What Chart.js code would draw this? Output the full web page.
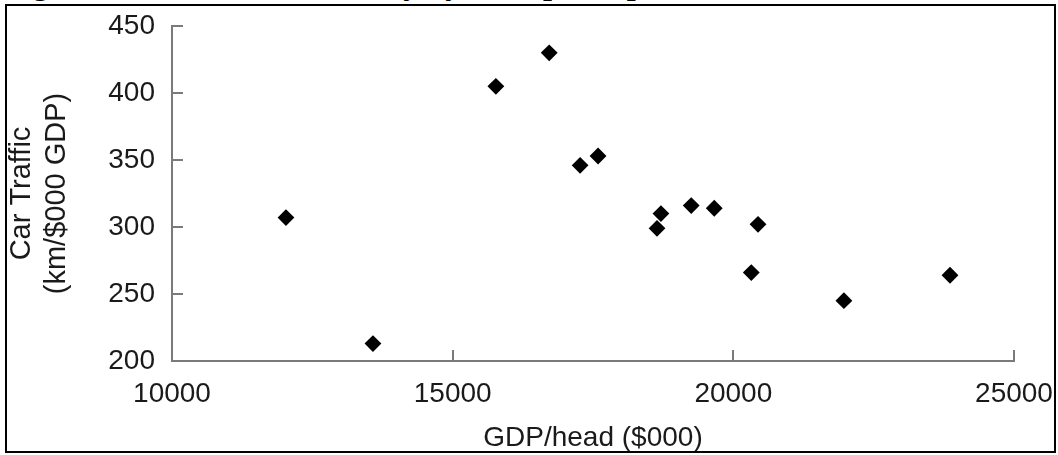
<!DOCTYPE html>
<html>
<head>
<meta charset="utf-8">
<script src="https://cdn.jsdelivr.net/npm/chart.js@4.4.0/dist/chart.umd.min.js"></script>
<style>
  html, body { margin: 0; padding: 0; background: #fff; overflow: hidden; }
  #wrap { position: relative; width: 1058px; height: 455px; }
  #title {
    position: absolute; left: 4px; top: -33px; white-space: nowrap;
    font: bold 32px "Liberation Serif", serif; line-height: 32px; color: #000;
  }
  #frame {
    position: absolute; left: 5px; top: 4px; width: 1051px; height: 449px;
    box-sizing: border-box; border: 2px solid #000; pointer-events: none;
  }
  canvas { position: absolute; left: 0; top: 0; }
</style>
</head>
<body>
<div id="wrap">
  <div id="title">Figure 5: Car Traffic Intensity by GDP per capita</div>
  <canvas id="myChart" width="1058" height="455"></canvas>
  <div id="frame"></div>
</div>
<script>
// GDP per head and car traffic per country
var gdpHead = [12030, 13580, 15770, 16720, 17270, 17590, 18640, 18710, 19250, 19660, 20440, 20320, 21970, 23860];
var carTraffic = [307, 213, 405, 430, 346, 353, 299, 310, 316, 314, 302, 266, 245, 264];

var xTicks = [10000, 15000, 20000, 25000];
var yTicks = [200, 250, 300, 350, 400, 450];

var points = [];
for (var i in gdpHead) {
    points.push({ x: gdpHead[i], y: carTraffic[i] });
}

// short ticks drawn inside the plot, like the original
var innerTicks = {
    id: 'innerTicks',
    afterDraw: function (chart) {
        var ctx = chart.ctx;
        var xs = chart.scales.x, ys = chart.scales.y;
        var area = chart.chartArea;
        ctx.save();
        ctx.strokeStyle = '#7a7a7a';
        ctx.lineWidth = 2;
        ctx.beginPath();
        yTicks.forEach(function (v) {
            var py = Math.round(ys.getPixelForValue(v));
            ctx.moveTo(area.left, py);
            ctx.lineTo(area.left + 11, py);
        });
        xTicks.forEach(function (v) {
            var px = Math.round(xs.getPixelForValue(v));
            ctx.moveTo(px, area.bottom);
            ctx.lineTo(px, area.bottom - 11);
        });
        ctx.stroke();
        ctx.restore();
    }
};

var ctx = document.getElementById('myChart').getContext('2d');

var chart = new Chart(ctx, {
    type: 'scatter',
    data: {
        datasets: [{
            label: 'Car traffic',
            data: points,
            pointStyle: 'rectRot',
            pointRadius: 7,
            backgroundColor: '#000',
            borderColor: '#000',
            borderWidth: 2
        }]
    },
    options: {
        responsive: false,
        animation: false,
        devicePixelRatio: 1,
        layout: { padding: { left: 0, top: 26, right: 44, bottom: 0 } },
        plugins: {
            legend: { display: false },
            tooltip: { enabled: false }
        },
        scales: {
            x: {
                type: 'linear',
                min: 10000,
                max: 25000,
                afterBuildTicks: function (s) { s.ticks = xTicks.map(function (v) { return { value: v }; }); },
                afterFit: function (s) { s.height = 94; s.paddingLeft = 0; s.paddingRight = 0; },
                grid: { display: true, drawOnChartArea: false, drawTicks: false },
                border: { display: true, color: '#7a7a7a', width: 2 },
                ticks: {
                    padding: 16,
                    color: '#1a1a1a',
                    font: { family: 'Liberation Sans', size: 28 },
                    callback: function (v) { return String(v); }
                },
                title: {
                    display: true,
                    text: 'GDP/head ($000)',
                    color: '#1a1a1a',
                    font: { family: 'Liberation Sans', size: 28 },
                    padding: { top: 0, bottom: 0 }
                }
            },
            y: {
                type: 'linear',
                min: 200,
                max: 450,
                afterBuildTicks: function (s) { s.ticks = yTicks.map(function (v) { return { value: v }; }); },
                afterFit: function (s) { s.width = 172; s.paddingTop = 0; s.paddingBottom = 0; },
                grid: { display: true, drawOnChartArea: false, drawTicks: false },
                border: { display: true, color: '#7a7a7a', width: 2 },
                ticks: {
                    padding: 17,
                    color: '#1a1a1a',
                    font: { family: 'Liberation Sans', size: 28 },
                    callback: function (v) { return String(v); }
                },
                title: {
                    display: true,
                    text: ['Car Traffic', '(km/$000 GDP)'],
                    color: '#1a1a1a',
                    font: { family: 'Liberation Sans', size: 29, lineHeight: 1.2 },
                    padding: { top: 5, bottom: 0 }
                }
            }
        }
    },
    plugins: [innerTicks]
});
</script>
</body>
</html>
